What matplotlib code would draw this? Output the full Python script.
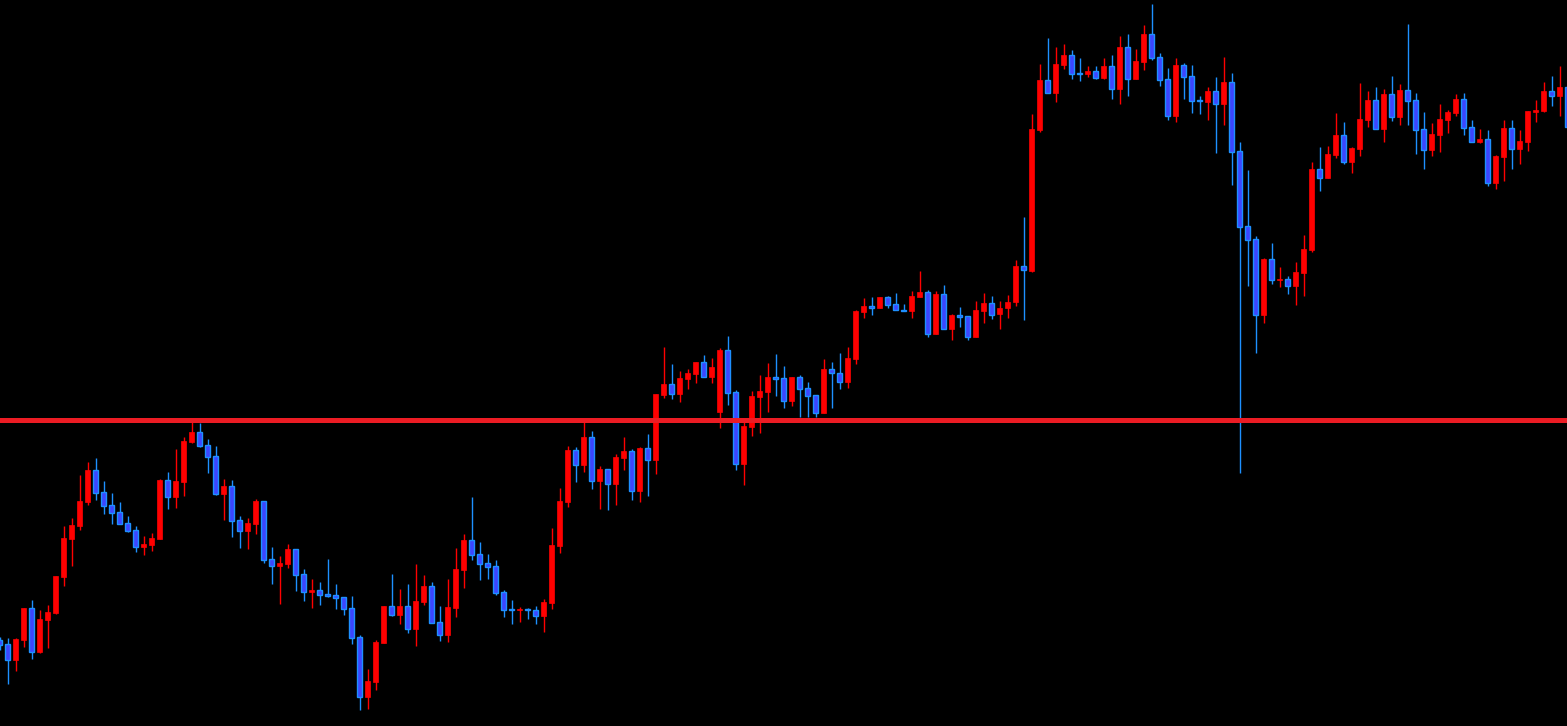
import numpy as np
import matplotlib

matplotlib.use("Agg")
from matplotlib import pyplot as plt

# candle levels, counted in rows from the top edge (726 rows tall)
open_rows = [
    640, 644, 660, 640, 608, 652, 620, 613, 577, 539, 526, 502, 470, 492, 505, 512, 523, 530, 547, 545,
    539, 480, 497, 482, 442, 432, 445, 456, 494, 486, 520, 531, 524, 501, 559, 566, 564, 549, 574, 592,
    590, 594, 595, 597, 608, 637, 697, 682, 643, 606, 615, 606, 629, 602, 586, 622, 635, 608, 570, 540,
    554, 563, 566, 592, 609, 610, 609, 610, 616, 603, 546, 502, 450, 465, 437, 481, 469, 484, 458, 451,
    491, 448, 460, 395, 384, 394, 379, 374, 362, 377, 412, 350, 392, 464, 427, 397, 392, 377, 378, 401,
    377, 388, 395, 413, 369, 373, 382, 359, 312, 306, 308, 297, 304, 310, 311, 297, 292, 334, 294, 329,
    315, 316, 337, 311, 303, 314, 308, 302, 266, 271, 130, 80, 93, 65, 55, 73, 74, 71, 78, 66,
    89, 47, 79, 62, 34, 57, 79, 116, 65, 76, 100, 102, 91, 104, 82, 151, 226, 239, 315, 259,
    280, 279, 286, 273, 250, 169, 178, 155, 135, 162, 149, 120, 100, 129, 94, 117, 90, 100, 129, 150,
    135, 120, 113, 99, 127, 142, 139, 183, 157, 128, 149, 142, 112, 111, 91, 96, 87,
]
high_rows = [
    637, 638, 638, 608, 600, 610, 605, 576, 526, 518, 475, 462, 458, 481, 493, 502, 516, 526, 536, 533,
    479, 472, 449, 437, 422, 423, 439, 446, 479, 480, 516, 518, 499, 501, 547, 556, 544, 549, 569, 579,
    582, 559, 584, 597, 596, 635, 669, 640, 606, 574, 589, 584, 564, 575, 582, 606, 579, 548, 534, 497,
    542, 554, 560, 590, 600, 607, 608, 606, 599, 528, 488, 446, 447, 421, 431, 466, 469, 454, 437, 449,
    447, 434, 394, 347, 364, 371, 369, 362, 355, 358, 348, 336, 390, 422, 391, 375, 363, 354, 366, 377,
    375, 382, 395, 359, 362, 353, 347, 310, 298, 297, 297, 296, 293, 304, 291, 271, 290, 291, 285, 314,
    307, 316, 301, 293, 296, 301, 295, 260, 217, 114, 64, 38, 47, 44, 50, 58, 66, 66, 58, 55,
    36, 34, 49, 25, 4, 53, 68, 58, 63, 65, 96, 87, 77, 57, 73, 142, 170, 236, 258, 243,
    267, 276, 262, 235, 162, 147, 146, 113, 122, 147, 83, 91, 87, 89, 76, 84, 24, 93, 112, 123,
    104, 110, 94, 93, 120, 129, 130, 155, 120, 120, 130, 111, 100, 82, 76, 66, 80,
]
low_rows = [
    650, 684, 671, 647, 659, 653, 648, 614, 586, 566, 530, 505, 500, 514, 524, 524, 532, 552, 555, 551,
    539, 509, 508, 496, 443, 447, 473, 495, 520, 537, 548, 549, 534, 563, 584, 604, 568, 591, 601, 608,
    605, 597, 609, 615, 644, 710, 709, 690, 643, 616, 624, 633, 646, 605, 623, 641, 642, 617, 588, 560,
    580, 579, 595, 617, 624, 622, 619, 624, 632, 609, 553, 507, 482, 472, 489, 509, 510, 505, 470, 500,
    502, 496, 474, 398, 399, 402, 389, 383, 377, 383, 428, 405, 470, 485, 436, 433, 412, 396, 408, 406,
    417, 417, 417, 413, 408, 389, 388, 364, 318, 315, 308, 308, 310, 311, 318, 297, 337, 334, 329, 340,
    327, 340, 337, 323, 319, 329, 318, 306, 320, 272, 132, 93, 102, 69, 79, 81, 77, 79, 79, 99,
    104, 96, 79, 70, 60, 86, 120, 122, 99, 113, 114, 120, 153, 125, 185, 473, 286, 353, 323, 284,
    287, 294, 305, 296, 252, 191, 178, 158, 164, 173, 156, 127, 129, 142, 121, 125, 125, 154, 169, 156,
    152, 133, 116, 135, 142, 143, 186, 189, 181, 169, 164, 151, 122, 112, 106, 116, 127,
]
close_rows = [
    645, 660, 639, 608, 652, 619, 612, 576, 538, 525, 501, 470, 493, 506, 513, 524, 531, 547, 544, 538,
    480, 497, 481, 441, 432, 446, 457, 494, 486, 521, 531, 523, 501, 560, 566, 563, 549, 575, 592, 590,
    595, 596, 598, 609, 638, 697, 681, 642, 606, 615, 606, 629, 601, 586, 623, 635, 607, 569, 540, 555,
    564, 567, 593, 610, 610, 609, 610, 616, 602, 545, 501, 450, 465, 437, 481, 469, 484, 457, 451, 491,
    448, 460, 394, 384, 394, 378, 373, 362, 377, 367, 350, 393, 464, 426, 396, 391, 377, 379, 401, 377,
    389, 396, 413, 369, 373, 382, 358, 311, 306, 308, 297, 305, 310, 311, 296, 292, 334, 294, 329, 315,
    317, 337, 310, 303, 315, 308, 302, 266, 270, 129, 80, 93, 64, 55, 74, 74, 71, 78, 66, 89,
    47, 79, 61, 34, 58, 80, 116, 65, 77, 101, 101, 91, 104, 82, 152, 227, 240, 315, 259, 280,
    279, 286, 272, 249, 169, 178, 154, 135, 162, 148, 119, 100, 129, 94, 117, 90, 101, 130, 150, 134,
    119, 112, 99, 128, 142, 139, 183, 156, 128, 149, 141, 111, 110, 91, 96, 87, 127,
]
level_row = 419.5  # horizontal line

CHART_H = 726
opens = CHART_H - np.array(open_rows, dtype=float)
highs = CHART_H - np.array(high_rows, dtype=float)
lows = CHART_H - np.array(low_rows, dtype=float)
closes = CHART_H - np.array(close_rows, dtype=float)
level = CHART_H - level_row

UP_BODY = "#ff0000"
DOWN_BODY = "#3c46ff"
DOWN_EDGE = "#1e90ff"

fig = plt.figure(figsize=(15.67, 7.26), dpi=100, facecolor="black")
ax = fig.add_axes([0, 0, 1, 1])
ax.set_facecolor("black")

x = np.arange(len(opens))
up = closes >= opens
body_lo = np.minimum(opens, closes)
body_h = np.maximum(np.abs(closes - opens), 1.0)

# wicks
ax.vlines(x[up], lows[up], highs[up], color=UP_BODY, lw=1.0, zorder=2)
ax.vlines(x[~up], lows[~up], highs[~up], color=DOWN_EDGE, lw=1.0, zorder=2)

# bodies
ax.bar(x[up], body_h[up], bottom=body_lo[up], width=0.62, color=UP_BODY,
       edgecolor=UP_BODY, linewidth=0.5, zorder=3)
ax.bar(x[~up], body_h[~up], bottom=body_lo[~up], width=0.55, color=DOWN_BODY,
       edgecolor=DOWN_EDGE, linewidth=1.0, zorder=3)

ax.axhline(level, xmin=2 / 1567, xmax=1.0, color="#ec1c24", lw=3.6, zorder=4)

ax.set_xlim(0.0625, 0.0625 + 1567 / 8)
ax.set_ylim(0, CHART_H)
ax.axis("off")

fig.savefig("out.png", dpi=100, facecolor="black")
plt.close(fig)
